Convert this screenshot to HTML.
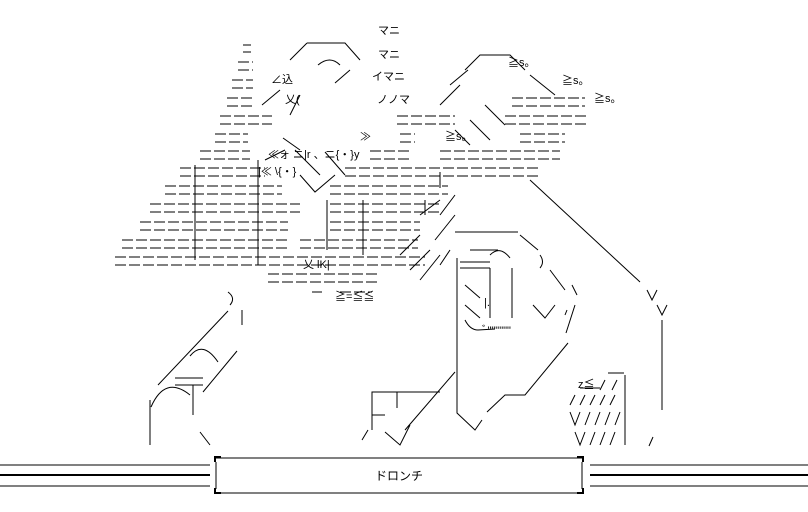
<!DOCTYPE html>
<html><head><meta charset="utf-8"><style>
html,body{margin:0;padding:0;background:#fff;width:808px;height:512px;overflow:hidden}
svg{display:block}
text{font-family:"Liberation Sans","Noto Sans CJK JP",sans-serif;fill:#000}
</style></head><body>
<svg width="808" height="512" viewBox="0 0 808 512" xmlns="http://www.w3.org/2000/svg">
<g stroke="#000" stroke-width="1" fill="none">
<g stroke-dasharray="11 3">
<path d="M243 45H251M243 52H251"/>
<path d="M238 62H253M238 70H253"/>
<path d="M232 80H253M232 88H253"/>
<path d="M227 98H253M227 106H253 M512 98H585M512 106H585"/>
<path d="M220 116H272M220 124H272 M397 116H455M397 124H455 M505 116H588M505 124H588"/>
<path d="M215 134H248M215 142H248 M400 134H415M400 142H415 M520 134H565M520 142H565"/>
<path d="M200 151H250M200 159H250 M370 151H412M370 159H412 M440 151H560M440 159H560"/>
<path d="M180 168H265M180 176H265 M345 168H540M345 176H540"/>
<path d="M165 186H282M165 194H282 M330 186H448M330 194H448"/>
<path d="M150 204H300M150 212H300 M330 204H440M330 212H440"/>
<path d="M140 222H288M140 230H288 M330 222H420M330 230H420"/>
<path d="M122 240H290M122 248H290 M300 240H418M300 248H418"/>
<path d="M115 257H425M115 265H425"/>
<path d="M268 274H378M268 282H378"/>
<path d="M312 292H322M340 292H372"/>
</g>
<path d="M307 43H345L360 60 M290 60L307 43 M340 65Q330 55 318 65 M350 70L335 83 M262 105L280 90 M300 95L290 115"/>
<path d="M465 70L480 55H510L525 70 M450 85L468 70 M530 75L555 95 M440 105L460 85 M485 105L505 125 M470 120L490 140 M455 130L470 145"/>
<path d="M265 160L285 150 M283 138L300 150 M300 175L315 192L335 175 M325 152L345 175 M295 150L320 175"/>
<path d="M420 215L440 200 M455 195L440 215 M455 215L435 240 M420 235L400 255 M430 250L410 270 M440 255L420 280 M450 250L440 265"/>
<path d="M440 172V188 M195 165V260 M258 160V265 M327 200V250 M363 200V255 M425 200V215"/>
<path d="M455 232H518 M520 235L538 250 M540 255Q545 262 540 268"/>
<path d="M530 180L640 282 M647 290L652 300L657 290 M657 305L662 315L667 305 M662 320V410 M653 437L649 446"/>
<path d="M457 258V413L475 430L482 420 M487 412L505 395H525L568 343 M566 333L575 305 M577 295L572 285"/>
<path d="M490 268V318 M512 268V318 M490 255Q500 245 510 258 M470 250H498 M460 262H490 M460 268H490"/>
<path d="M465 285L480 298 M465 305L480 318 M465 320Q470 330 478 330L495 329 M533 305L545 318L555 305 M550 270L565 290 M567 310L565 315"/>
<path d="M455 372L405 430 M440 392H372V430 M397 392V408 M372 415H385 M368 430L362 440 M385 432L400 445L410 425"/>
<path d="M228 292Q236 298 230 305 M242 310V325 M228 311L158 385 M237 351L203 392 M190 356Q203 340 218 362 M175 378H203M175 385H203 M151 407Q165 375 190 395 M150 400V445 M193 385V415 M200 432L210 445"/>
<path d="M625 375V445 M608 373H624 M580 388H600"/>
<path d="M570 405L575 395M580 405L585 395M590 405L595 395M600 405L605 395M610 405L615 395M600 390L605 380M612 390L617 380 M570 412L575 425L580 412M585 425L590 412M595 425L600 412M605 425L610 412M615 425L620 412 M575 432L580 445L585 432M590 445L595 432M600 445L605 432M610 445L615 432"/>
<path d="M0 465H210M0 486H210M590 465H808M590 486H808"/>
<path d="M0 475H210M590 475H808" stroke-width="2"/>
<path d="M215 458H583M215 493H583"/>
<path d="M216 462V489M582 462V489"/>
<path d="M215 462V457H221M583 462V457H577M215 488V493H221M583 488V493H577" stroke-width="2"/>
</g>
<g font-size="11">
<text x="378" y="34">マニ</text>
<text x="378" y="58">マニ</text>
<text x="271" y="83">∠込</text>
<text x="372" y="80">イマニ</text>
<text x="285" y="103">乂(</text>
<text x="377" y="103">ノノマ</text>
<text x="508" y="66">≧s。</text>
<text x="562" y="84">≧s。</text>
<text x="594" y="102">≧s。</text>
<text x="445" y="140">≧s。</text>
<text x="268" y="158">≪ォ ニ|r 、ニ{・}y</text>
<text x="258" y="175">|≪ \{・}</text>
<text x="360" y="140">≫</text>
<text x="303" y="268">乂 lK|</text>
<text x="335" y="300">≧=≦≦</text>
<text x="482" y="334">ﾞ""""""</text>
<text x="484" y="306">|.</text>
<text x="578" y="388">z≦</text>
</g>
<text x="399" y="480" font-size="12" text-anchor="middle">ドロンチ</text>
</svg>
</body></html>
